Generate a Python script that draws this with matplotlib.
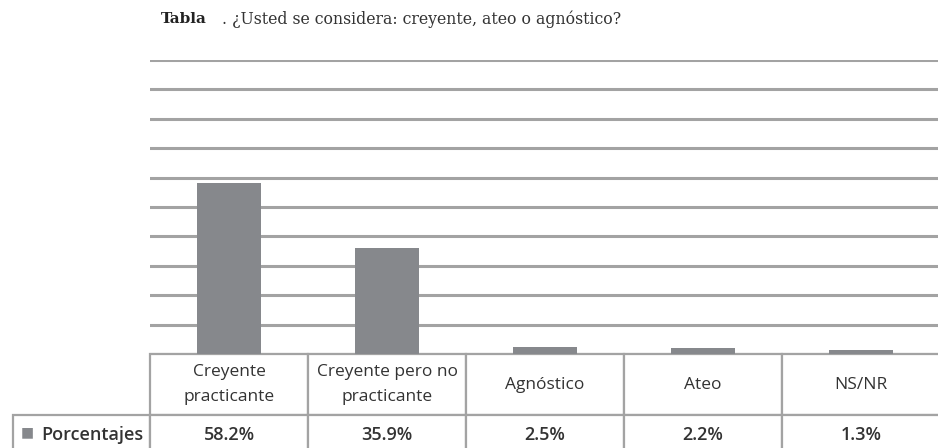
import matplotlib.pyplot as plt

categories = ['Creyente\npracticante', 'Creyente pero no\npracticante', 'Agnóstico', 'Ateo', 'NS/NR']
porcentajes = [58.2, 35.9, 2.5, 2.2, 1.3]
serie = 'Porcentajes'
yticks = list(range(0, 101, 10))

bar_color = '#86888c'
line_color = '#a3a3a3'
text_color = '#333333'

W, H = 938, 448
fig = plt.figure(figsize=(W / 100, H / 100), dpi=100)
# axes in pixel terms: left 150, right ~940, top 60, bottom 354
ax = fig.add_axes([150 / W, (H - 354) / H, 790 / W, 294 / H])

x = list(range(len(categories)))
ax.bar(x, porcentajes, width=0.4, color=bar_color, zorder=3)
ax.set_xlim(-0.5, len(categories) - 0.5)
ax.set_ylim(0, 100)
ax.set_yticks(yticks)
ax.yaxis.grid(True, color=line_color, linewidth=2.2, zorder=0)
ax.set_xticks([])
ax.tick_params(axis='y', length=0, labelleft=False)
for s in ax.spines.values():
    s.set_visible(False)

# data table under the bars (value row runs past the bottom edge of the image)
cell_text = [[''] + categories, [serie] + [f'{v:.1f}%' for v in porcentajes]]
lab_w = 137 / 790
col_w = 1 / len(categories)
tbl = ax.table(cellText=cell_text, colWidths=[lab_w] + [col_w] * len(categories),
               cellLoc='center', bbox=[-lab_w, -101 / 294, 1 + lab_w, 101 / 294])
tbl.auto_set_font_size(False)
for (r, c), cell in tbl.get_celld().items():
    cell.set_edgecolor(line_color)
    cell.set_linewidth(1.6)
    cell.set_height(61 if r == 0 else 40)
    t = cell.get_text()
    t.set_fontsize(12.5)
    t.set_color(text_color)
    t.set_fontfamily('Open Sans')
    t.set_linespacing(1.75)
    if r == 0 and c == 0:
        cell.visible_edges = ''
    if r == 1:
        t.set_fontweight('semibold')
        t.set_fontsize(13)
    if r == 1 and c == 0:
        t.set_ha('right')
        cell.PAD = 0.05

# legend key in the row label
fig.text(21 / W, 1 - 432 / H, '■', color=bar_color, fontsize=10, va='center', ha='left')

# title
fig.text(161 / W, 1 - 19 / H, 'Tabla', fontsize=11, fontweight='bold', family='DejaVu Serif',
         color='#222222', va='center', ha='left')
fig.text(222 / W, 1 - 19 / H, '. ¿Usted se considera: creyente, ateo o agnóstico?', fontsize=11.3,
         family='DejaVu Serif', color=text_color, va='center', ha='left')

fig.savefig('out.png', dpi=100)
